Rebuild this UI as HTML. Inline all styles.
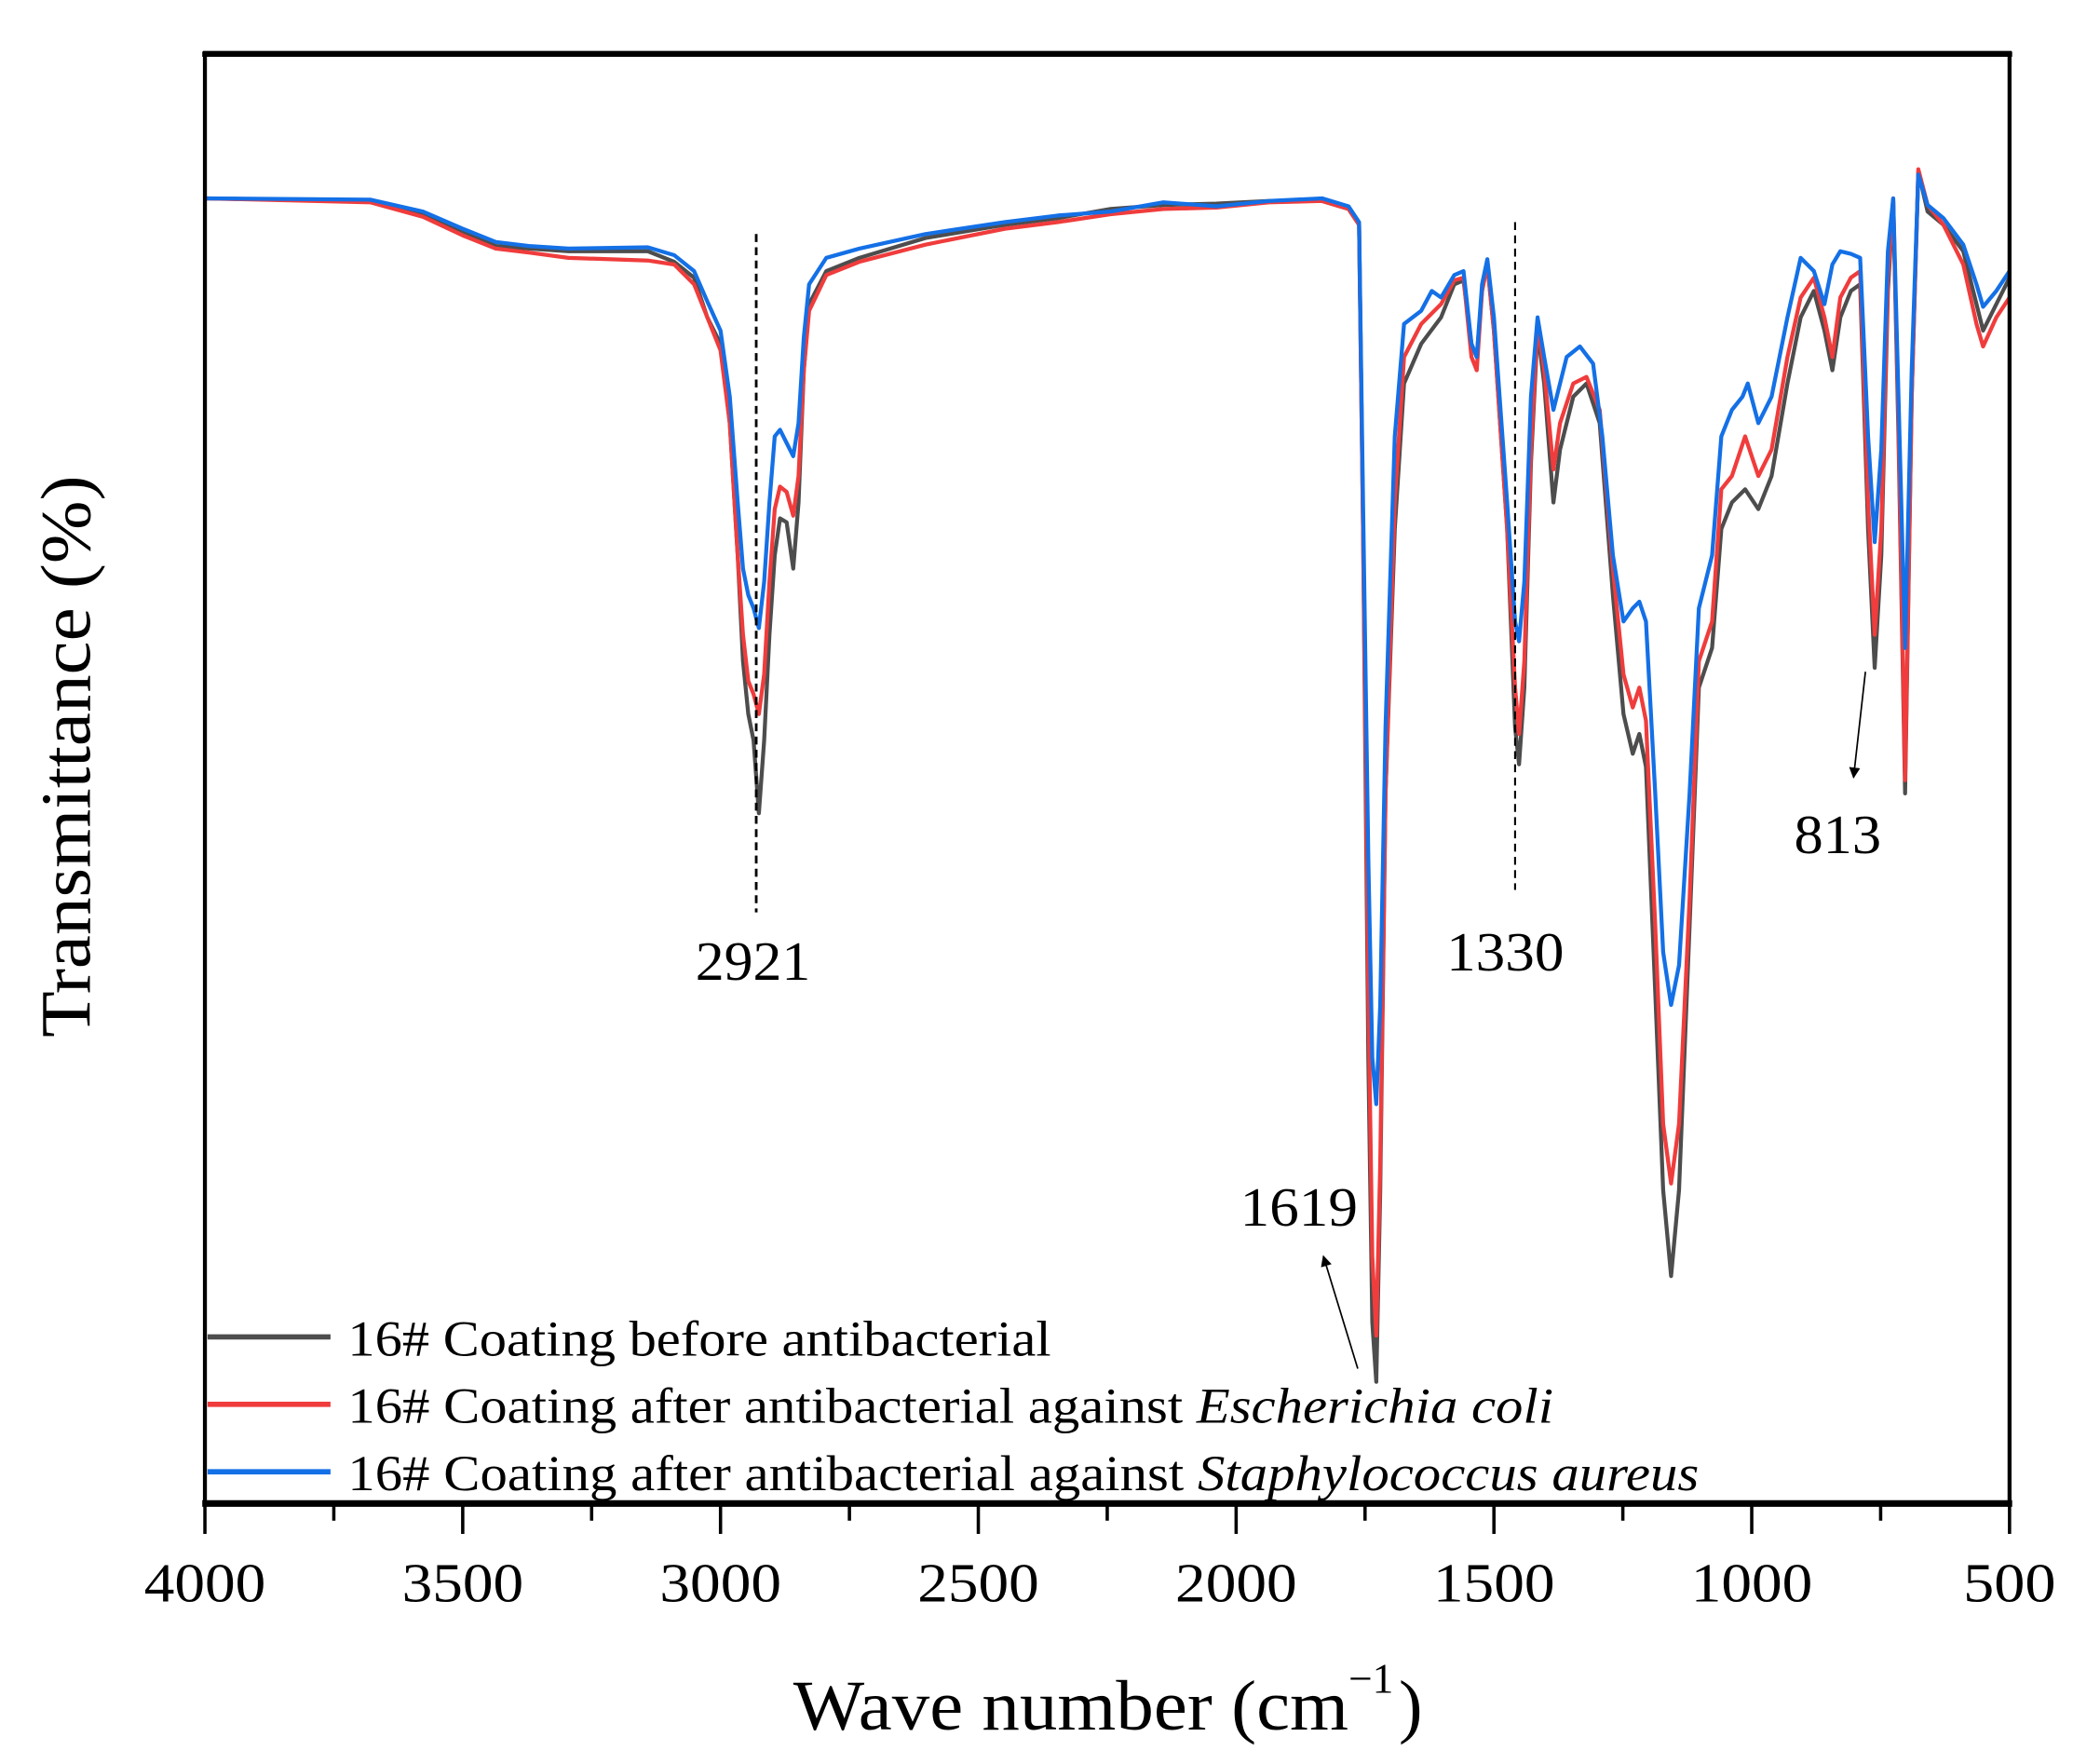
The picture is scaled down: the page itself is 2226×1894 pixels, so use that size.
<!DOCTYPE html>
<html><head><meta charset="utf-8"><style>html,body{margin:0;padding:0;background:#fff}svg{display:block}</style></head>
<body>
<svg width="2226" height="1894" viewBox="0 0 1568 1334" preserveAspectRatio="none" xmlns="http://www.w3.org/2000/svg" font-family="Liberation Serif, serif">
<defs><marker id="ah" viewBox="0 0 10 10" refX="9" refY="5" markerWidth="7" markerHeight="9" orient="auto"><path d="M0,0L10,5L0,10z" fill="#000"/></marker></defs>
<g fill="none" stroke-width="3" stroke-linejoin="round">
<polyline stroke="#4d4d4d" points="155,150 280,152 320,162 350,175 375,186 400,188 430,190 490,190 510,198 525,210 535,240 545,260 552,320 558,420 562,500 566,540 570,560 574,615 578,560 582,480 586,420 590,392 595,395 600,430 604,380 608,280 612,230 625,205 650,195 700,180 760,170 800,165 840,158 880,155 920,154 960,152 1000,152 1020,158 1028,170 1031,400 1035,800 1038,1000 1041,1045 1044,900 1048,600 1055,400 1062,290 1075,260 1090,240 1100,215 1107,212 1113,260 1117,270 1121,220 1125,200 1130,250 1140,400 1146,550 1149,578 1153,520 1158,350 1163,250 1168,290 1175,380 1180,340 1190,300 1200,290 1210,320 1220,450 1228,540 1235,570 1240,555 1245,580 1252,750 1258,900 1264,965 1270,900 1278,700 1285,520 1295,490 1302,400 1310,380 1320,370 1330,385 1340,360 1352,290 1362,240 1372,220 1380,250 1386,280 1392,240 1400,220 1407,215 1413,400 1418,505 1423,420 1428,220 1432,152 1436,330 1441,600 1446,300 1451,130 1458,160 1470,170 1485,190 1495,230 1500,250 1510,230 1520,210"/>
<polyline stroke="#f03c3c" points="155,150 280,153 320,164 350,178 375,188 400,191 430,195 490,197 510,200 525,215 535,240 545,265 552,320 558,420 562,480 566,515 570,525 574,540 578,510 582,440 586,385 590,368 595,372 600,390 604,360 608,280 612,235 625,208 650,198 700,185 760,173 800,168 840,162 880,158 920,157 960,153 1000,152 1020,158 1028,170 1031,400 1035,750 1038,950 1041,1010 1044,880 1048,600 1055,380 1062,270 1075,245 1090,230 1100,212 1107,210 1113,270 1117,280 1121,220 1125,200 1130,250 1140,400 1146,520 1149,555 1153,500 1158,340 1163,245 1168,280 1175,355 1180,320 1190,290 1200,285 1210,310 1220,430 1228,510 1235,535 1240,520 1245,545 1252,700 1258,850 1264,895 1270,850 1278,680 1285,500 1295,470 1302,370 1310,360 1320,330 1330,360 1340,340 1352,270 1362,225 1372,210 1380,240 1386,270 1392,225 1400,210 1407,205 1413,380 1418,480 1423,400 1428,210 1432,150 1436,320 1441,590 1446,300 1451,128 1458,155 1470,170 1485,200 1495,245 1500,262 1510,240 1520,225"/>
<polyline stroke="#1470e6" points="155,150 280,151 320,160 350,173 375,183 400,186 430,188 490,187 510,193 525,205 535,228 545,250 552,300 558,380 562,430 566,450 570,460 574,475 578,440 582,380 586,330 590,325 595,335 600,345 604,320 608,255 612,215 625,195 650,188 700,177 760,168 800,163 840,160 880,153 920,156 960,152 1000,150 1020,156 1028,168 1031,380 1035,650 1038,800 1041,835 1044,760 1048,550 1055,330 1062,245 1075,235 1083,220 1090,225 1100,208 1107,205 1113,260 1117,270 1121,215 1125,196 1130,240 1140,380 1146,470 1149,485 1153,440 1158,300 1163,240 1168,270 1175,310 1185,270 1195,262 1205,275 1212,330 1220,420 1228,470 1235,460 1240,455 1245,470 1252,600 1258,720 1264,760 1270,730 1278,600 1285,460 1295,420 1302,330 1310,310 1318,300 1322,290 1330,320 1340,300 1352,240 1362,195 1372,205 1380,230 1386,200 1392,190 1400,192 1407,195 1413,330 1418,410 1423,340 1428,190 1432,150 1436,300 1441,490 1446,280 1451,132 1458,155 1470,165 1485,185 1495,215 1500,232 1510,220 1520,205"/>
</g>
<line x1="572" y1="177" x2="572" y2="690" stroke="#000" stroke-width="2" stroke-dasharray="6,4"/>
<line x1="1146" y1="168" x2="1146" y2="673" stroke="#000" stroke-width="1.5" stroke-dasharray="6,4"/>
<line x1="1027" y1="1035" x2="1001" y2="950" stroke="#000" stroke-width="1.2" marker-end="url(#ah)"/>
<line x1="1411" y1="508" x2="1402" y2="588" stroke="#000" stroke-width="1.2" marker-end="url(#ah)"/>
<g font-size="42" fill="#000" lengthAdjust="spacingAndGlyphs">
<text x="526" y="741" textLength="87" lengthAdjust="spacingAndGlyphs">2921</text>
<text x="1094" y="734" textLength="89" lengthAdjust="spacingAndGlyphs">1330</text>
<text x="938" y="927" textLength="89" lengthAdjust="spacingAndGlyphs">1619</text>
<text x="1357" y="645" textLength="66" lengthAdjust="spacingAndGlyphs">813</text>
</g>
<rect x="155" y="40" width="1365" height="1097" fill="none" stroke="#000" stroke-width="3"/>
<line x1="153" y1="1137" x2="1522" y2="1137" stroke="#000" stroke-width="5"/>
<line x1="153" y1="41" x2="1522" y2="41" stroke="#000" stroke-width="4"/>
<g stroke="#000" stroke-width="2.5">
<line x1="155" y1="1137" x2="155" y2="1160"/><line x1="252.5" y1="1137" x2="252.5" y2="1150"/>
<line x1="350" y1="1137" x2="350" y2="1160"/><line x1="447.5" y1="1137" x2="447.5" y2="1150"/>
<line x1="545" y1="1137" x2="545" y2="1160"/><line x1="642.5" y1="1137" x2="642.5" y2="1150"/>
<line x1="740" y1="1137" x2="740" y2="1160"/><line x1="837.5" y1="1137" x2="837.5" y2="1150"/>
<line x1="935" y1="1137" x2="935" y2="1160"/><line x1="1032.5" y1="1137" x2="1032.5" y2="1150"/>
<line x1="1130" y1="1137" x2="1130" y2="1160"/><line x1="1227.5" y1="1137" x2="1227.5" y2="1150"/>
<line x1="1325" y1="1137" x2="1325" y2="1160"/><line x1="1422.5" y1="1137" x2="1422.5" y2="1150"/>
<line x1="1520" y1="1137" x2="1520" y2="1160"/>
</g>
<g font-size="42">
<text x="109" y="1211" textLength="92" lengthAdjust="spacingAndGlyphs">4000</text>
<text x="304" y="1211" textLength="92" lengthAdjust="spacingAndGlyphs">3500</text>
<text x="499" y="1211" textLength="92" lengthAdjust="spacingAndGlyphs">3000</text>
<text x="694" y="1211" textLength="92" lengthAdjust="spacingAndGlyphs">2500</text>
<text x="889" y="1211" textLength="92" lengthAdjust="spacingAndGlyphs">2000</text>
<text x="1084" y="1211" textLength="92" lengthAdjust="spacingAndGlyphs">1500</text>
<text x="1279" y="1211" textLength="92" lengthAdjust="spacingAndGlyphs">1000</text>
<text x="1485" y="1211" textLength="70" lengthAdjust="spacingAndGlyphs">500</text>
</g>
<text x="600" y="1308" font-size="54" textLength="420" lengthAdjust="spacingAndGlyphs">Wave number (cm</text>
<text x="1020" y="1280" font-size="32">−1</text>
<text x="1058" y="1308" font-size="54">)</text>
<text transform="translate(68,572) rotate(-90)" font-size="54" text-anchor="middle" textLength="425" lengthAdjust="spacingAndGlyphs">Transmittance (%)</text>
<g stroke-width="4">
<line x1="157" y1="1011" x2="250" y2="1011" stroke="#4d4d4d"/>
<line x1="157" y1="1062" x2="250" y2="1062" stroke="#f03c3c"/>
<line x1="157" y1="1113" x2="250" y2="1113" stroke="#1470e6"/>
</g>
<g font-size="38">
<text x="263" y="1025" textLength="532" lengthAdjust="spacingAndGlyphs">16# Coating before antibacterial</text>
<text x="263" y="1076" textLength="912" lengthAdjust="spacingAndGlyphs">16# Coating after antibacterial against <tspan font-style="italic">Escherichia coli</tspan></text>
<text x="263" y="1127" textLength="1022" lengthAdjust="spacingAndGlyphs">16# Coating after antibacterial against <tspan font-style="italic">Staphylococcus aureus</tspan></text>
</g>
</svg>
</body></html>
